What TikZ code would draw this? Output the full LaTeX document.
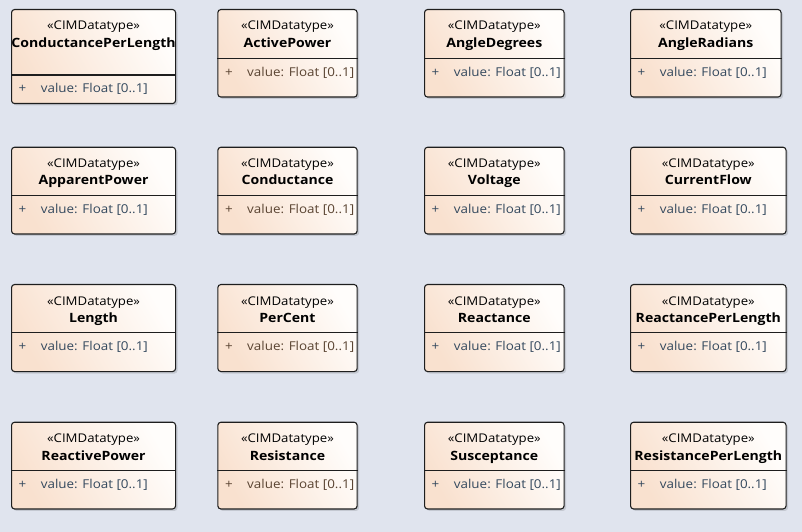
\documentclass[tikz,border=0pt]{standalone}
\usepackage{fontspec}
\setmainfont{Open Sans}[FakeStretch=1.1]
\definecolor{bg}{HTML}{E0E4EE}
\definecolor{peach}{HTML}{F9E1CF}
\definecolor{cream}{HTML}{FFFDFB}
\definecolor{attrs}{HTML}{34495E}
\definecolor{attrb}{HTML}{5A4432}
\definecolor{edge}{HTML}{1E1E1E}
\tikzset{
  cimbox/.style={draw=edge, line width=1.1bp, rounded corners=3bp, top color=peach, bottom color=cream, shading angle=120, inner sep=0pt},
  shadowbox/.style={fill=black, opacity=0.12, rounded corners=3bp},
  divline/.style={draw=edge, line width=1.1bp},
  stereo/.style={inner sep=0pt, anchor=base, font=\fontsize{12bp}{14bp}\selectfont, text=black},
  cname/.style={inner sep=0pt, anchor=base, font=\fontsize{12.8bp}{15bp}\selectfont\bfseries, text=black},
  attrtxt/.style={inner sep=0pt, anchor=base west, font=\fontsize{12.2bp}{14bp}\selectfont}
}
% #1 name, #2 x, #3 y, #4 width, #5 height, #6 divider offset, #7 title, #8 attribute colour
\newcommand\cimbox[8]{%
  \fill[shadowbox] (#2+2.5,#3+2.5) rectangle ++(#4,#5);
  \node[cimbox, minimum width=#4 bp, minimum height=#5 bp, anchor=north west] (#1) at (#2,#3) {};
  \draw[divline] ([yshift=-#6 bp]#1.north west) -- ([yshift=-#6 bp]#1.north east);
  \node[stereo] (#1-s) at ([yshift=-21bp]#1.north) {«CIMDatatype»};
  \node[cname] (#1-n) at ([yshift=-38.3bp]#1.north) {#7};
  \node[attrtxt, text=#8] (#1-p) at ([xshift=7.5bp, yshift=-#6bp-18bp]#1.north west) {+};
  \node[attrtxt, text=#8] (#1-a) at ([xshift=29.7bp, yshift=-#6bp-18bp]#1.north west) {value: Float [0..1]};
}
\begin{document}
\begin{tikzpicture}[x=1bp, y=-1bp]
\fill[bg] (0,0) rectangle (802,532);
\useasboundingbox (0,0) rectangle (802,532);
% row 1
\cimbox{b11}{11}{9}{164}{94}{66}{ConductancePerLength}{attrs}
\cimbox{b12}{217.3}{9}{139.3}{87.5}{49.3}{ActivePower}{attrb}
\cimbox{b13}{424}{9}{139.5}{87.5}{49.3}{AngleDegrees}{attrs}
\cimbox{b14}{630}{9}{150.5}{87.5}{49.3}{AngleRadians}{attrs}
% row 2
\cimbox{b21}{11}{146.7}{164}{86.7}{49}{ApparentPower}{attrs}
\cimbox{b22}{217.3}{146.7}{139.3}{86.7}{49}{Conductance}{attrb}
\cimbox{b23}{424}{146.7}{139.5}{86.7}{49}{Voltage}{attrs}
\cimbox{b24}{630}{146.7}{155.5}{86.7}{49}{CurrentFlow}{attrs}
% row 3
\cimbox{b31}{11}{284}{164}{87}{48.7}{Length}{attrs}
\cimbox{b32}{217.3}{284}{139.3}{87}{48.7}{PerCent}{attrb}
\cimbox{b33}{424}{284}{139.5}{87}{48.7}{Reactance}{attrs}
\cimbox{b34}{630}{284}{155.5}{87}{48.7}{ReactancePerLength}{attrs}
% row 4
\cimbox{b41}{11}{421.7}{164}{86.7}{49}{ReactivePower}{attrs}
\cimbox{b42}{217.3}{421.7}{139.3}{86.7}{49}{Resistance}{attrb}
\cimbox{b43}{424}{421.7}{139.5}{86.7}{49}{Susceptance}{attrs}
\cimbox{b44}{630}{421.7}{155.5}{86.7}{49}{ResistancePerLength}{attrs}
\end{tikzpicture}
\end{document}
